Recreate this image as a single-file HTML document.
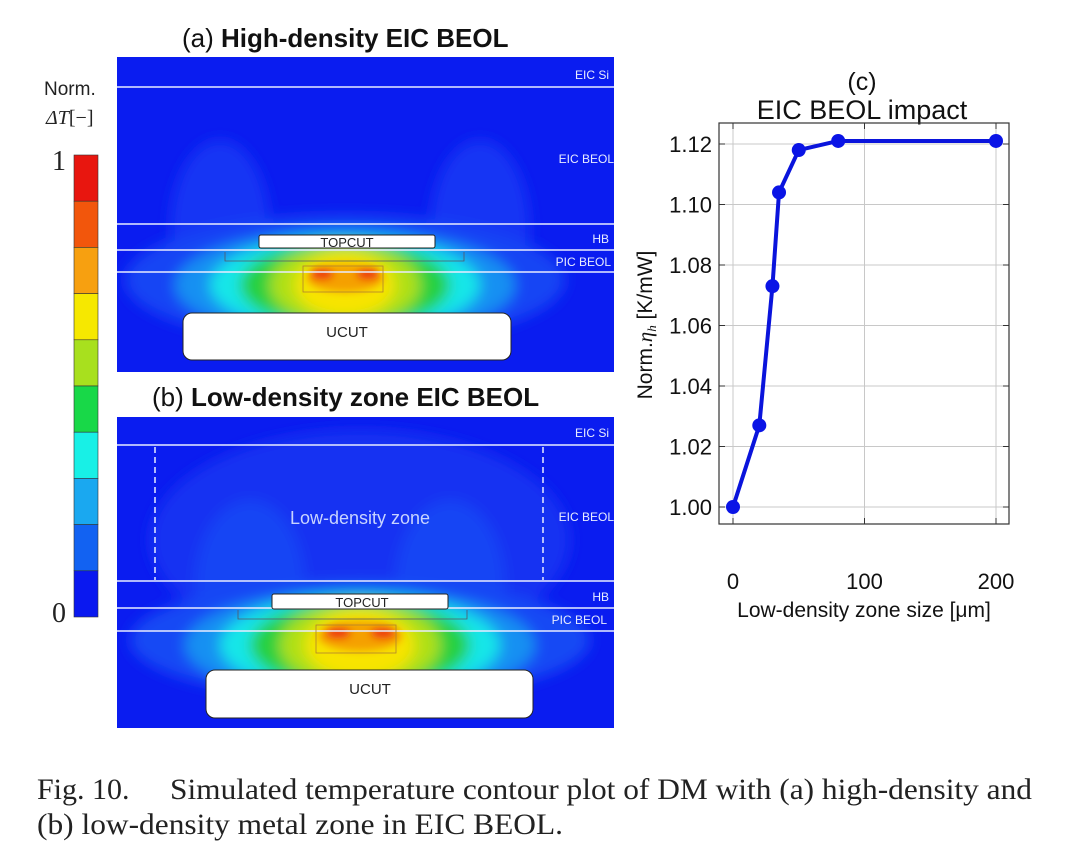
<!DOCTYPE html>
<html><head><meta charset="utf-8"><style>
body{margin:0;background:#fff;width:1080px;height:862px;overflow:hidden}
svg{display:block}
</style></head><body>
<svg width="1080" height="862" viewBox="0 0 1080 862" xmlns="http://www.w3.org/2000/svg" font-family="Liberation Sans, DejaVu Sans, sans-serif">
<defs>
<clipPath id="ca"><rect x="117" y="57" width="497" height="315"/></clipPath>
<clipPath id="cb"><rect x="117" y="417" width="497" height="311"/></clipPath>
<filter id="bl" x="-50%" y="-50%" width="200%" height="200%"><feGaussianBlur stdDeviation="7"/></filter>
<filter id="bl2" x="-50%" y="-50%" width="200%" height="200%"><feGaussianBlur stdDeviation="4"/></filter>
</defs>

<text x="182" y="47" font-size="26" fill="#111">(a) <tspan font-weight="bold" font-size="26">High-density EIC BEOL</tspan></text>
<text x="152" y="406" font-size="26" fill="#111">(b) <tspan font-weight="bold" font-size="26">Low-density zone EIC BEOL</tspan></text>

<g>
<text x="44" y="95" font-size="19" fill="#222">Norm.</text>
<text x="46" y="124" font-size="20" fill="#222" font-family="Liberation Serif, serif"><tspan font-style="italic">ΔT</tspan>[−]</text>
<text x="52" y="170" font-size="28" fill="#222" font-family="Liberation Serif, serif">1</text>
<text x="52" y="622" font-size="28" fill="#222" font-family="Liberation Serif, serif">0</text>
<g id="cbar" stroke="#333" stroke-width="0.6"></g>
</g>

<g clip-path="url(#ca)">
<rect x="117" y="57" width="497" height="315" fill="#0a1cf0"/>
<g filter="url(#bl)">
<ellipse cx="220" cy="230" rx="50" ry="90" fill="#1236f4"/>
<ellipse cx="480" cy="230" rx="50" ry="90" fill="#1236f4"/>
<ellipse cx="345" cy="280" rx="220" ry="65" fill="#1244f4"/>
<ellipse cx="345" cy="285" rx="170" ry="55" fill="#1490f2"/>
<ellipse cx="345" cy="285" rx="135" ry="48" fill="#18e6e8"/>
<ellipse cx="345" cy="285" rx="105" ry="44" fill="#28d040"/>
<ellipse cx="345" cy="285" rx="75" ry="40" fill="#b0e018"/>
<ellipse cx="345" cy="285" rx="50" ry="32" fill="#f8e400"/>
</g>
<g filter="url(#bl2)">
<ellipse cx="345" cy="278" rx="38" ry="14" fill="#f5a000"/>
<ellipse cx="322" cy="274" rx="12" ry="6" fill="#ee3010"/>
<ellipse cx="368" cy="274" rx="12" ry="6" fill="#ee3010"/>
</g>
<g stroke="#e8ecff" stroke-width="1.5">
<line x1="117" y1="87" x2="614" y2="87"/><line x1="117" y1="224" x2="614" y2="224"/>
<line x1="117" y1="250" x2="614" y2="250"/><line x1="117" y1="272" x2="614" y2="272"/>
</g>
<path d="M225 252v9h239v-9" fill="none" stroke="#556" stroke-width="0.8"/>
<rect x="303" y="266" width="80" height="26" fill="none" stroke="#b08030" stroke-width="0.8"/>
<rect x="259" y="235" width="176" height="13" rx="2" fill="#fff" stroke="#222"/>
<text x="347" y="247" font-size="13" text-anchor="middle" fill="#222">TOPCUT</text>
<rect x="183" y="313" width="328" height="47" rx="9" fill="#fff" stroke="#222"/>
<text x="347" y="337" font-size="15" text-anchor="middle" fill="#222">UCUT</text>
<g font-size="12" fill="#e8ecff" text-anchor="end">
<text x="609" y="79">EIC Si</text><text x="614" y="163">EIC BEOL</text>
<text x="609" y="243">HB</text><text x="611" y="266">PIC BEOL</text>
</g>
</g>

<g clip-path="url(#cb)">
<rect x="117" y="417" width="497" height="311" fill="#0a1cf0"/>
<g filter="url(#bl)">
<ellipse cx="360" cy="540" rx="210" ry="110" fill="#1230f2"/>
<ellipse cx="250" cy="585" rx="55" ry="85" fill="#1244f4"/>
<ellipse cx="450" cy="585" rx="55" ry="85" fill="#1244f4"/>
<ellipse cx="360" cy="640" rx="230" ry="60" fill="#1248f4"/>
<ellipse cx="360" cy="645" rx="175" ry="55" fill="#1490f2"/>
<ellipse cx="360" cy="645" rx="140" ry="50" fill="#18e6e8"/>
<ellipse cx="360" cy="645" rx="110" ry="46" fill="#28d040"/>
<ellipse cx="360" cy="645" rx="80" ry="42" fill="#b0e018"/>
<ellipse cx="360" cy="645" rx="55" ry="34" fill="#f8e400"/>
</g>
<g filter="url(#bl2)">
<ellipse cx="360" cy="636" rx="42" ry="15" fill="#f5a000"/>
<ellipse cx="338" cy="633" rx="13" ry="6" fill="#ee3010"/>
<ellipse cx="383" cy="633" rx="13" ry="6" fill="#ee3010"/>
</g>
<g stroke="#e8ecff" stroke-width="1.5">
<line x1="117" y1="445" x2="614" y2="445"/><line x1="117" y1="581" x2="614" y2="581"/>
<line x1="117" y1="608" x2="614" y2="608"/><line x1="117" y1="631" x2="614" y2="631"/>
</g>
<g stroke="#e8ecff" stroke-width="1.5" stroke-dasharray="6,4">
<line x1="155" y1="447" x2="155" y2="580"/><line x1="543" y1="447" x2="543" y2="580"/>
</g>
<path d="M238 610v9h229v-9" fill="none" stroke="#556" stroke-width="0.8"/>
<rect x="316" y="625" width="80" height="28" fill="none" stroke="#b08030" stroke-width="0.8"/>
<rect x="272" y="594" width="176" height="15" rx="2" fill="#fff" stroke="#222"/>
<text x="362" y="607" font-size="13" text-anchor="middle" fill="#222">TOPCUT</text>
<rect x="206" y="670" width="327" height="48" rx="9" fill="#fff" stroke="#222"/>
<text x="370" y="694" font-size="15" text-anchor="middle" fill="#222">UCUT</text>
<text x="360" y="524" font-size="18" text-anchor="middle" fill="#c8d4ff">Low-density zone</text>
<g font-size="12" fill="#e8ecff" text-anchor="end">
<text x="609" y="437">EIC Si</text><text x="614" y="521">EIC BEOL</text>
<text x="609" y="601">HB</text><text x="607" y="624">PIC BEOL</text>
</g>
</g>

<g>
<text x="862" y="90" font-size="25" text-anchor="middle" fill="#111">(c)</text>
<text x="862" y="119" font-size="27" text-anchor="middle" fill="#111">EIC BEOL impact</text>
<g id="grid"></g>
<rect x="719" y="123" width="290" height="401" fill="none" stroke="#333" stroke-width="1.2"/>
<g id="ticks" font-size="22" fill="#111"></g>
<polyline id="line" fill="none" stroke="#0a14dc" stroke-width="4" stroke-linejoin="round"/>
<g id="pts"></g>
<text x="864" y="617" font-size="21" text-anchor="middle" fill="#111">Low-density zone size [μm]</text>
<text transform="translate(652,325) rotate(-90)" font-size="21" text-anchor="middle" fill="#111">Norm.<tspan font-style="italic" font-family="Liberation Serif, serif">η</tspan><tspan font-size="13" font-style="italic" dy="4" font-family="Liberation Serif, serif">h</tspan><tspan dy="-4"> [K/mW]</tspan></text>
</g>

<text font-family="Liberation Serif, serif" font-size="30" fill="#222">
<tspan x="37" y="799">Fig. 10.</tspan><tspan x="170" y="799" textLength="862" lengthAdjust="spacingAndGlyphs">Simulated temperature contour plot of DM with (a) high-density and</tspan>
<tspan x="37" y="834" textLength="526" lengthAdjust="spacingAndGlyphs">(b) low-density metal zone in EIC BEOL.</tspan>
</text>
</svg>
<script>
const xValues=[0,20,30,35,50,80,200];
const yValues=[1.000,1.027,1.073,1.104,1.118,1.121,1.121];
const xTicks=[0,100,200];
const yTicks=[1.00,1.02,1.04,1.06,1.08,1.10,1.12];
const cbarColors=["#e8160f","#f2560c","#f7a010","#f6e800","#a8e01e","#18d848","#18f0e6","#1aa8f0","#1262f2","#0a18f0"];
const NS="http://www.w3.org/2000/svg";
const X=v=>733+(v-0)*(996-733)/200;
const Y=v=>507-(v-1.0)*(507-144)/0.12;
const mk=(t,a,p)=>{const e=document.createElementNS(NS,t);for(const k in a)e.setAttribute(k,a[k]);p.appendChild(e);return e;};
const grid=document.getElementById('grid'),ticks=document.getElementById('ticks');
xTicks.forEach(v=>{
 const g=mk('line',{x1:X(v),x2:X(v),y1:123,y2:524,stroke:'#c8c8c8','stroke-width':1},grid);
 
 
 mk('line',{x1:X(v),x2:X(v),y1:524,y2:518,stroke:'#333'},ticks);
 mk('line',{x1:X(v),x2:X(v),y1:123,y2:129,stroke:'#333'},ticks);
 const t=mk('text',{x:X(v),y:589,'text-anchor':'middle'},ticks);t.textContent=v;
 
 
});
yTicks.forEach(v=>{
 const g=mk('line',{x1:719,x2:1009,y1:Y(v),y2:Y(v),stroke:'#c8c8c8','stroke-width':1},grid);
 
 
 mk('line',{x1:719,x2:725,y1:Y(v),y2:Y(v),stroke:'#333'},ticks);
 mk('line',{x1:1003,x2:1009,y1:Y(v),y2:Y(v),stroke:'#333'},ticks);
 const t=mk('text',{x:712,y:Y(v)+8,'text-anchor':'end'},ticks);t.textContent=v.toFixed(2);
 
 
});
document.getElementById('line').setAttribute('points',xValues.map((v,i)=>X(v)+','+Y(yValues[i])).join(' '));
const pts=document.getElementById('pts');
xValues.forEach((v,i)=>{
 const c=mk('circle',{cx:X(v),cy:Y(yValues[i]),r:7,fill:'#0a14e6'},pts);
 
 
});
const cb=document.getElementById('cbar');const cbTop=155,cbBot=617,cbH=(cbBot-cbTop)/cbarColors.length;
cbarColors.forEach((c,i)=>{
 const r=mk('rect',{x:74,y:cbTop+i*cbH,width:24,height:cbH,fill:c},cb);
 
 
});
</script>
</body></html>
